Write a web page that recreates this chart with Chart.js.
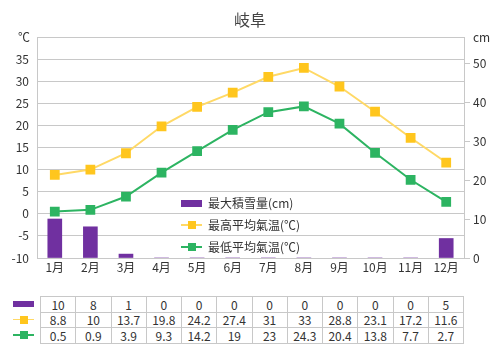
<!DOCTYPE html>
<html><head><meta charset="utf-8">
<script src="https://cdn.jsdelivr.net/npm/chart.js@4/dist/chart.umd.min.js"></script>
<style>
body{margin:0;background:#fff;width:500px;height:360px;position:relative;overflow:hidden;font-family:"Noto Sans CJK JP",sans-serif;color:#333}
#c{position:absolute;left:0;top:0}
.lbl{position:absolute;font-size:12px;line-height:1;white-space:nowrap}
#tbl{position:absolute;left:40px;top:296px;border-collapse:collapse;table-layout:fixed;width:424px}
#tbl td{border:1px solid #c8c8c8;height:14.5px;padding:0;text-align:center;font-size:12px;line-height:13px;color:#333}
.ic{position:absolute}
</style></head><body>
<canvas id="c" width="500" height="280"></canvas>
<div class="lbl" id="title" style="left:0;width:500px;top:11px;text-align:center;font-size:16px;color:#444"></div>
<div class="lbl" id="unitL" style="left:18px;top:31px"></div>
<div class="lbl" id="unitR" style="left:473px;top:31px"></div>
<div id="legend"></div>
<table id="tbl"></table>
<div id="ticons"></div>
<script>
const chartTitle = '岐阜';
const unitLeft = '℃';
const unitRight = 'cm';
const months = ['1月','2月','3月','4月','5月','6月','7月','8月','9月','10月','11月','12月'];
const snow = [10,8,1,0,0,0,0,0,0,0,0,5];
const high = [8.8,10,13.7,19.8,24.2,27.4,31,33,28.8,23.1,17.2,11.6];
const low = [0.5,0.9,3.9,9.3,14.2,19,23,24.3,20.4,13.8,7.7,2.7];
const seriesLabels = ['最大積雪量(cm)','最高平均氣温(℃)','最低平均氣温(℃)'];
const tempTicks = [-10,-5,0,5,10,15,20,25,30,35,40];
const tempTickLabels = ['-10','-5','0','5','10','15','20','25','30','35',''];
const snowTicks = [0,10,20,30,40,50];

const PURPLE = '#7030A0', YEL_M = '#FFC61E', YEL_L = '#FFD966', GRN = '#2DB462', GRID = '#C8C8C8';

document.getElementById('title').textContent = chartTitle;
document.getElementById('unitL').textContent = unitLeft;
document.getElementById('unitR').textContent = unitRight;

const font = {family:'"Noto Sans CJK JP", sans-serif', size:12};

new Chart(document.getElementById('c'), {
  type:'bar',
  data:{
    labels: months,
    datasets:[
      {type:'line', label:seriesLabels[1], data:high, yAxisID:'y', borderColor:YEL_L, backgroundColor:YEL_M,
       pointBackgroundColor:YEL_M, pointBorderColor:YEL_M, pointStyle:'rect', pointRadius:5.5, borderWidth:2, tension:0, order:1},
      {type:'line', label:seriesLabels[2], data:low, yAxisID:'y', borderColor:GRN, backgroundColor:GRN,
       pointBackgroundColor:GRN, pointBorderColor:GRN, pointStyle:'rect', pointRadius:5.5, borderWidth:2, tension:0, order:2},
      {type:'bar', label:seriesLabels[0], data:snow, yAxisID:'y2', backgroundColor:PURPLE, barThickness:14, order:3}
    ]
  },
  options:{
    responsive:false, animation:false, devicePixelRatio:1,
    layout:{padding:{top:37,left:0,right:0,bottom:0}},
    plugins:{legend:{display:false}, tooltip:{enabled:false}, title:{display:false}},
    scales:{
      x:{
        grid:{display:false, drawTicks:false},
        border:{display:true, color:GRID},
        ticks:{font, color:'#333', padding:2, maxRotation:0, autoSkip:false},
        afterFit:s=>{s.height=22;}
      },
      y:{
        position:'left', min:-10, max:40,
        afterBuildTicks:s=>{s.ticks = tempTicks.map(v=>({value:v}));},
        ticks:{font, color:'#333', padding:8, callback:(v,i)=>tempTickLabels[i]},
        grid:{color:GRID, drawTicks:false, lineWidth:1},
        border:{display:true, color:GRID},
        afterFit:s=>{s.width=37;}
      },
      y2:{
        position:'right', min:0, max:56.67,
        afterBuildTicks:s=>{s.ticks = snowTicks.map(v=>({value:v}));},
        ticks:{font, color:'#333', padding:3},
        grid:{drawOnChartArea:false, color:GRID, tickLength:6, drawTicks:true},
        border:{display:true, color:GRID},
        afterFit:s=>{s.width=36;}
      }
    }
  }
});

// legend
const legendColors = [PURPLE, YEL_M, GRN];
const legendLine = [null, YEL_L, GRN];
const lg = document.getElementById('legend');
const legendRowsY = [203, 225, 247];
seriesLabels.forEach((t,i)=>{
  const y = legendRowsY[i];
  if(i===0){
    const d=document.createElement('div'); d.className='ic';
    Object.assign(d.style,{left:'181px',top:(y-3.5)+'px',width:'21px',height:'7px',background:PURPLE});
    lg.appendChild(d);
  } else {
    const l=document.createElement('div'); l.className='ic';
    Object.assign(l.style,{left:'181px',top:(y-1)+'px',width:'21px',height:'2px',background:legendLine[i]});
    lg.appendChild(l);
    const s=document.createElement('div'); s.className='ic';
    Object.assign(s.style,{left:'188px',top:(y-4)+'px',width:'8px',height:'8px',background:legendColors[i]});
    lg.appendChild(s);
  }
  const tx=document.createElement('div'); tx.className='lbl'; tx.textContent=t;
  Object.assign(tx.style,{left:'208px',top:(y-7)+'px',fontSize:'12px',lineHeight:'14px'});
  lg.appendChild(tx);
});

// table
const tbl = document.getElementById('tbl');
[snow, high, low].forEach(arr=>{
  const tr=document.createElement('tr');
  arr.forEach(v=>{const td=document.createElement('td'); td.textContent=String(v); tr.appendChild(td);});
  tbl.appendChild(tr);
});
const ti = document.getElementById('ticons');
const tRowsY = [304, 319.5, 335];
tRowsY.forEach((y,i)=>{
  if(i===0){
    const d=document.createElement('div'); d.className='ic';
    Object.assign(d.style,{left:'13px',top:(y-3)+'px',width:'21px',height:'6px',background:PURPLE});
    ti.appendChild(d);
  } else {
    const l=document.createElement('div'); l.className='ic';
    Object.assign(l.style,{left:'13px',top:(y-1)+'px',width:'21px',height:'1.5px',background:legendLine[i]});
    ti.appendChild(l);
    const s=document.createElement('div'); s.className='ic';
    Object.assign(s.style,{left:'20px',top:(y-4)+'px',width:'8px',height:'8px',background:legendColors[i]});
    ti.appendChild(s);
  }
});
</script>
</body></html>
